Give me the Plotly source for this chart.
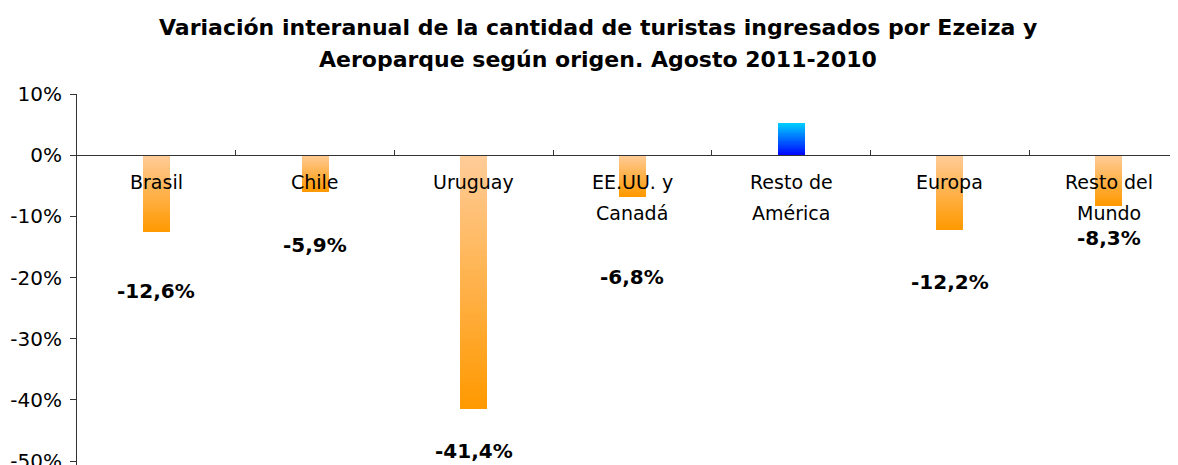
import plotly.graph_objects as go

# ---- data ----
categories = ["Brasil", "Chile", "Uruguay", "EE.UU. y\nCanadá", "Resto de\nAmérica", "Europa", "Resto del\nMundo"]
values = [-12.6, -5.9, -41.4, -6.8, 5.2, -12.2, -8.3]
y_tickvals = [10, 0, -10, -20, -30, -40, -50]
y_ticktext = ["10%", "0%", "-10%", "-20%", "-30%", "-40%", "-50%"]
title_lines = ["Variación interanual de la cantidad de turistas ingresados por Ezeiza y",
               "Aeroparque según origen. Agosto 2011-2010"]

# ---- layout / style ----
label_y = [-22.2, -14.7, -48.4, -19.9, 10.1, -20.8, -13.6]   # value-label positions (data units)
FONT = "DejaVu Sans, Verdana, sans-serif"
OFF = 8  # page body margin
W, H = 1178 - OFF, 465 - OFF
ML, MT, MB, MR = 77 - OFF, 94 - OFF, 0, 0
YMAX = 10
PX_PER_UNIT = 6.117
YMIN = YMAX - (H - MT - MB) / PX_PER_UNIT
CAT_W = 158.7
XMAX = -0.5 + (W - ML - MR) / CAT_W
BAR_W = 0.17

neg_top, neg_bot = (255, 204, 153), (255, 153, 0)
pos_top, pos_bot = (0, 204, 255), (0, 0, 255)

def mix(c1, c2, t):
    return "rgb(%d,%d,%d)" % tuple(round(a + (b - a) * t) for a, b in zip(c1, c2))

x = list(range(len(categories)))
N = 40
fig = go.Figure()
for i in range(N):
    bases, heights, cols = [], [], []
    for v in values:
        b = v * i / N
        bases.append(b)
        heights.append(v / N * 1.02)
        frac = (i + 0.5) / N  # fraction from zero toward the bar end
        if v < 0:
            cols.append(mix(neg_top, neg_bot, frac))
        else:
            cols.append(mix(pos_bot, pos_top, frac))
    fig.add_trace(go.Bar(x=x, y=heights, base=bases, width=BAR_W,
                         marker=dict(color=cols, line=dict(width=0)),
                         showlegend=False, hoverinfo="skip"))

annotations = []
# title
for k, line in enumerate(title_lines):
    py = [27, 60][k] - OFF
    annotations.append(dict(text="<b>%s</b>" % line, xref="paper", yref="paper",
                            x=(598 - OFF - ML) / (W - ML - MR), y=(H - MB - py) / (H - MT - MB),
                            xanchor="center", yanchor="middle", showarrow=False,
                            font=dict(family=FONT, size=22, color="black")))
# category labels
for xi, cat in zip(x, categories):
    for k, line in enumerate(cat.split("\n")):
        annotations.append(dict(text=line, x=xi, y=0, xref="x", yref="y",
                                yshift=-27 - 31 * k, xanchor="center", yanchor="middle",
                                showarrow=False, font=dict(family=FONT, size=19, color="black")))
# value labels
for xi, v, ly in zip(x, values, label_y):
    txt = ("%.1f" % v).replace(".", ",") + "%"
    annotations.append(dict(text="<b>%s</b>" % txt, x=xi, y=ly, xref="x", yref="y",
                            xanchor="center", yanchor="middle", showarrow=False,
                            font=dict(family=FONT, size=20, color="black")))

fig.update_layout(
    width=W, height=H, margin=dict(l=ML, r=MR, t=MT, b=MB, pad=0, autoexpand=False),
    plot_bgcolor="white", paper_bgcolor="white", barmode="overlay", bargap=0,
    annotations=annotations,
    xaxis=dict(range=[-0.5, XMAX], anchor="free", position=(0 - YMIN) / (YMAX - YMIN),
               showline=True, linecolor="#333", linewidth=1, showgrid=False, zeroline=False,
               tickmode="array", tickvals=[i + 0.5 for i in x[:-1]], ticks="inside",
               ticklen=5, tickcolor="#333", showticklabels=False, automargin=False),
    yaxis=dict(range=[YMIN, YMAX], showline=True, linecolor="#333", linewidth=1,
               showgrid=False, zeroline=False, tickmode="array", tickvals=y_tickvals,
               ticktext=y_ticktext, ticks="outside", ticklen=6, tickcolor="#333",
               ticklabelstandoff=4, ticklabeloverflow="allow",
               tickfont=dict(family=FONT, size=20, color="black"), automargin=False),
)
fig.write_html("out.html")
